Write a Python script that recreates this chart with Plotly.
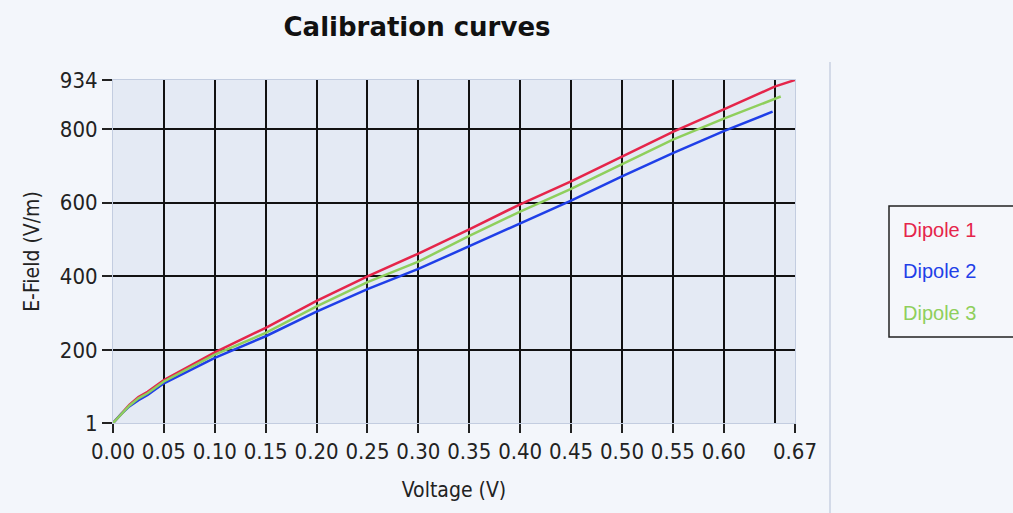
import plotly.graph_objects as go

# ---- data ----
volt_1 = [0.0, 0.008, 0.016, 0.025, 0.034, 0.05, 0.10, 0.15, 0.20, 0.25, 0.30, 0.35, 0.40, 0.45, 0.50, 0.55, 0.60, 0.65, 0.67]
dipole_1 = [1, 27, 50, 72, 86, 118, 193, 260, 333, 400, 462, 528, 596, 658, 725, 793, 854, 916, 934]

volt_2 = [0.0, 0.008, 0.016, 0.025, 0.034, 0.05, 0.10, 0.15, 0.20, 0.25, 0.30, 0.35, 0.40, 0.45, 0.50, 0.55, 0.60, 0.648]
dipole_2 = [1, 25, 46, 63, 77, 109, 178, 237, 304, 365, 420, 482, 544, 606, 672, 735, 795, 848]

volt_3 = [0.0, 0.008, 0.016, 0.025, 0.034, 0.05, 0.10, 0.15, 0.20, 0.25, 0.30, 0.35, 0.40, 0.45, 0.50, 0.55, 0.60, 0.656]
dipole_3 = [1, 26, 48, 68, 82, 114, 187, 246, 318, 384, 440, 510, 576, 638, 704, 772, 829, 889]

series_names = ["Dipole 1", "Dipole 2", "Dipole 3"]

x_tick_vals = [0.0, 0.05, 0.10, 0.15, 0.20, 0.25, 0.30, 0.35, 0.40, 0.45, 0.50, 0.55, 0.60, 0.67]
x_tick_text = ["0.00", "0.05", "0.10", "0.15", "0.20", "0.25", "0.30", "0.35", "0.40", "0.45", "0.50", "0.55", "0.60", "0.67"]
x_grid_vals = [0.05, 0.10, 0.15, 0.20, 0.25, 0.30, 0.35, 0.40, 0.45, 0.50, 0.55, 0.60, 0.65]
y_tick_vals = [1, 200, 400, 600, 800, 934]
y_tick_text = ["1", "200", "400", "600", "800", "934"]
y_grid_vals = [200, 400, 600, 800]

colors = ["#e5254a", "#1f3fe8", "#8fcf5c"]
font = "Liberation Sans, Arial, sans-serif"
tick_font = "DejaVu Sans Condensed, DejaVu Sans, sans-serif"

fig = go.Figure()
for xs, ys, name, c in [(volt_1, dipole_1, series_names[0], colors[0]),
                        (volt_2, dipole_2, series_names[1], colors[1]),
                        (volt_3, dipole_3, series_names[2], colors[2])]:
    fig.add_trace(go.Scatter(x=xs, y=ys, mode="lines", name=name,
                             line=dict(color=c, width=2.5), showlegend=False))

fig.update_layout(
    width=1013, height=513,
    margin=dict(l=113, r=218, t=80, b=90),
    paper_bgcolor="#f3f6fb",
    plot_bgcolor="#e4eaf4",
    font=dict(family=font, color="#111111"),
    title=dict(text="Calibration curves", x=417 / 1013, xanchor="center",
               y=1 - 27 / 513, yanchor="middle",
               font=dict(size=26, family="DejaVu Sans, sans-serif", color="#111111", weight="bold")),
    xaxis=dict(
        range=[0, 0.67], tickmode="array", tickvals=x_tick_vals, ticktext=x_tick_text,
        showgrid=False, zeroline=False, ticks="outside", ticklen=9, tickwidth=1.5,
        tickcolor="#222222", tickfont=dict(size=22, color="#222222", family=tick_font),
        showline=True, linecolor="#c3cde0", linewidth=1, mirror=True,
        minor=dict(tickmode="array", tickvals=x_grid_vals, showgrid=True,
                   gridcolor="#111111", gridwidth=2, ticks=""),
        title=dict(text="Voltage (V)", font=dict(size=21, color="#222222", family=tick_font), standoff=18),
    ),
    yaxis=dict(
        range=[1, 934], tickmode="array", tickvals=y_tick_vals, ticktext=y_tick_text,
        showgrid=False, zeroline=False, ticks="outside", ticklen=10, tickwidth=1.5,
        tickcolor="#222222", tickfont=dict(size=22, color="#222222", family=tick_font),
        showline=True, linecolor="#c3cde0", linewidth=1, mirror=True,
        minor=dict(tickmode="array", tickvals=y_grid_vals, showgrid=True,
                   gridcolor="#111111", gridwidth=2, ticks=""),
        title=dict(text="E-Field (V/m)", font=dict(size=21, color="#222222", family=tick_font), standoff=14),
    ),
)

# panel divider
fig.add_shape(type="line", xref="paper", yref="paper",
              x0=(830 - 113) / 682, x1=(830 - 113) / 682,
              y0=(513 - 90 - 62) / 343 + 0.0, y1=-90 / 343,
              line=dict(color="#c8d0e2", width=1.5))

# legend box with coloured names
fig.add_shape(type="rect", xref="paper", yref="paper",
              x0=(889 - 113) / 682, x1=(1016 - 113) / 682,
              y0=(423 - 337) / 343, y1=(423 - 206) / 343,
              line=dict(color="#222222", width=1.5), fillcolor="#f5f7fb")
for i, (name, c) in enumerate(zip(series_names, colors)):
    ypix = [230, 271, 313][i]
    fig.add_annotation(xref="paper", yref="paper", x=(901 - 113) / 682, y=(423 - ypix) / 343,
                       xanchor="left", yanchor="middle", text=name, showarrow=False,
                       font=dict(size=20, color=c, family=font))

fig.write_html("out.html", config={"displayModeBar": False},
               post_script="document.body.style.margin='0';document.body.style.overflow='hidden';")
